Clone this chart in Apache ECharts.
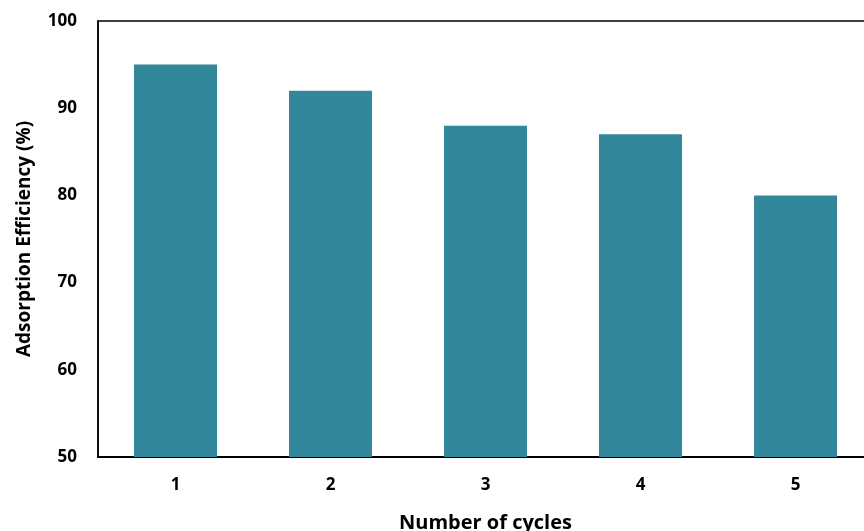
<!DOCTYPE html>
<html>
<head>
<meta charset="utf-8">
<script src="https://cdn.jsdelivr.net/npm/echarts@6/dist/echarts.min.js"></script>
<style>html,body{margin:0;padding:0;background:#fff;}#c{width:864px;height:531px;}</style>
</head>
<body>
<div id="c"></div>
<script>
const categories = ['1', '2', '3', '4', '5'];
const efficiency = [95, 92, 88, 87, 80];
const yTicks = [50, 60, 70, 80, 90, 100];

const chart = echarts.init(document.getElementById('c'));
const font = '"Open Sans", "Liberation Sans", sans-serif';
chart.setOption({
  animation: false,
  grid: { left: 98, top: 21, width: 775, height: 436, show: true, borderColor: '#000', borderWidth: 1.5, containLabel: false, outerBoundsMode: 'none' },
  xAxis: {
    type: 'category',
    data: categories,
    name: 'Number of cycles',
    nameLocation: 'middle',
    nameGap: 56,
    nameTextStyle: { fontFamily: font, fontWeight: 'bold', fontSize: 20, color: '#000' },
    axisLine: { lineStyle: { color: '#000', width: 2 } },
    axisTick: { show: false },
    axisLabel: { fontFamily: font, fontWeight: 'bold', fontSize: 17, color: '#000', margin: 20 }
  },
  yAxis: {
    type: 'value',
    min: yTicks[0],
    max: yTicks[yTicks.length - 1],
    interval: 10,
    name: 'Adsorption Efficiency (%)',
    nameLocation: 'middle',
    nameGap: 64,
    nameTextStyle: { fontFamily: font, fontWeight: 'bold', fontSize: 19, color: '#000' },
    axisLine: { show: true, lineStyle: { color: '#000', width: 1.5 } },
    axisTick: { show: false },
    splitLine: { show: false },
    axisLabel: { fontFamily: font, fontWeight: 'bold', fontSize: 17, color: '#000', margin: 21 }
  },
  series: [{
    type: 'bar',
    data: efficiency,
    barWidth: 83,
    itemStyle: { color: '#32879B' }
  }]
});
</script>
</body>
</html>
